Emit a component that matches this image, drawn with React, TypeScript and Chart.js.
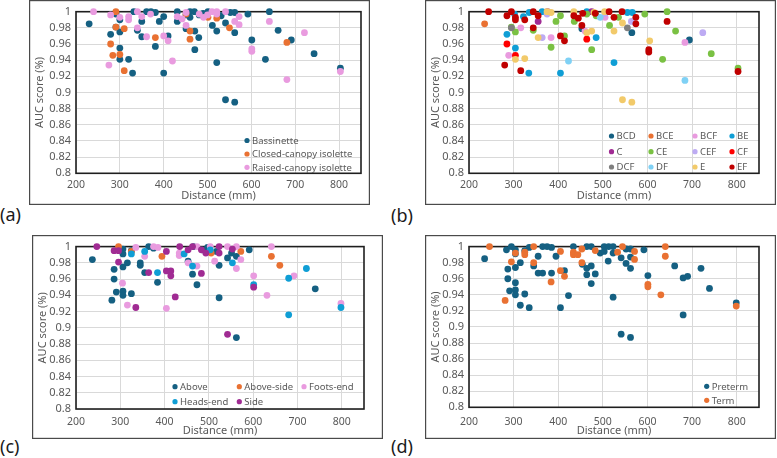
import React, { useEffect, useRef } from "react";
import { Chart, registerables } from "chart.js";

Chart.register(...registerables);

type Pt = [number, number];

// ---- axis ticks ----
const xTicks = [200, 300, 400, 500, 600, 700, 800];
const yTicks = [0.8, 0.82, 0.84, 0.86, 0.88, 0.9, 0.92, 0.94, 0.96, 0.98, 1];
const xTitle = "Distance (mm)";
const yTitle = "AUC score (%)";

// ---- (a) by cot type: [distance mm, AUC] ----
const bassinette: Pt[] = [
  [230, 0.985], [279, 0.972], [291, 0.981], [291, 0.997], [300, 0.99], [300, 0.975], [300, 0.955], [300, 0.941],
  [320, 0.941], [329, 0.924], [332, 1.0], [340, 0.977], [350, 0.988], [350, 0.969], [361, 1.0], [371, 1.0],
  [381, 0.999], [381, 0.957], [390, 0.988], [400, 0.994], [400, 0.924], [410, 0.97], [431, 1.0], [431, 0.988],
  [451, 0.979], [451, 0.996], [460, 1.0], [460, 0.993], [470, 1.0], [471, 0.976], [471, 0.953], [480, 0.968],
  [481, 0.996], [490, 0.998], [501, 1.0], [511, 0.983], [521, 0.976], [521, 0.937], [531, 0.995], [541, 0.986],
  [541, 0.891], [552, 0.999], [562, 0.999], [562, 0.974], [562, 0.888], [592, 0.997], [601, 0.965], [632, 0.941],
  [641, 1.0], [661, 0.977], [691, 0.965], [743, 0.948], [803, 0.93],
];
const closedCanopy: Pt[] = [
  [291, 1.0], [291, 0.981], [310, 0.979], [279, 0.96], [284, 0.946], [300, 0.947], [310, 0.927], [381, 0.968],
  [451, 0.997], [460, 0.976], [460, 0.966], [501, 0.993], [521, 0.992], [550, 0.98], [681, 0.962],
];
const raisedCanopy: Pt[] = [
  [240, 1.0], [275, 0.934], [279, 0.996], [300, 0.993], [320, 0.994], [320, 0.99], [340, 1.0], [340, 0.98],
  [350, 0.994], [361, 0.969], [370, 0.997], [400, 0.97], [410, 0.964], [420, 0.939], [431, 0.994], [442, 0.991],
  [451, 0.983], [451, 0.999], [481, 0.997], [491, 0.993], [500, 0.996], [510, 1.0], [521, 1.0], [521, 0.997],
  [541, 1.0], [562, 0.988], [572, 0.994], [572, 0.984], [601, 0.954], [601, 0.951], [641, 0.988], [681, 0.916],
  [721, 0.974], [803, 0.926],
];

// ---- (b) by camera combination ----
const bcd: Pt[] = [[453, 0.979], [565, 0.974], [694, 0.965]];
const bce: Pt[] = [[235, 0.985]];
const bcf: Pt[] = [[289, 0.946], [316, 0.98], [384, 0.968], [505, 0.993], [684, 0.962], [460, 0.976]];
const be: Pt[] = [
  [285, 0.972], [304, 0.955], [302, 0.997], [322, 0.994], [334, 0.924], [335, 0.999], [364, 1.0], [405, 0.924],
  [464, 1.0], [485, 0.968], [525, 0.937], [555, 0.999], [566, 0.999],
];
const c: Pt[] = [[355, 0.988], [376, 1.0], [475, 1.0]];
const ce: Pt[] = [
  [295, 0.981], [304, 0.975], [344, 0.977], [384, 0.956], [395, 0.988], [405, 0.995], [414, 0.97], [436, 0.988],
  [464, 0.997], [475, 0.953], [485, 0.995], [515, 0.983], [535, 0.993], [594, 0.997], [644, 1.0], [663, 0.976],
  [634, 0.941], [743, 0.948], [803, 0.93],
];
const cef: Pt[] = [[375, 0.997], [364, 0.968], [505, 0.998], [564, 0.988], [724, 0.974]];
const cf: Pt[] = [[285, 0.96], [304, 0.946], [464, 0.966]];
const dcf: Pt[] = [[295, 0.98], [555, 0.98]];
const df: Pt[] = [[423, 0.939], [494, 0.993], [684, 0.915]];
const e: Pt[] = [
  [304, 0.941], [325, 0.942], [355, 0.968], [375, 1.0], [384, 0.999], [435, 1.0], [464, 0.974], [475, 0.976],
  [480, 0.999], [504, 1.0], [525, 0.976], [544, 0.986], [605, 0.964], [544, 0.891], [565, 0.888],
];
const ef: Pt[] = [
  [244, 1.0], [295, 1.0], [285, 0.995], [304, 0.993], [304, 0.99], [325, 0.99], [344, 1.0], [355, 0.995],
  [344, 0.98], [280, 0.934], [316, 0.927], [405, 0.97], [414, 0.964], [435, 0.995], [445, 0.992], [455, 0.998],
  [453, 0.983], [483, 0.998], [514, 1.0], [525, 0.993], [543, 1.0], [574, 0.993], [574, 0.985], [644, 0.988],
  [603, 0.953], [603, 0.95], [803, 0.926],
];

// ---- (c) by camera position ----
const above: Pt[] = [
  [237, 0.984], [281, 0.934], [286, 0.972], [286, 0.96], [291, 0.944], [306, 0.997], [306, 0.991], [306, 0.975],
  [306, 0.945], [306, 0.94], [316, 0.98], [325, 0.942], [325, 0.995], [345, 0.98], [345, 0.977], [355, 0.968],
  [364, 1.0], [375, 0.998], [384, 0.956], [453, 0.982], [463, 0.966], [465, 1.0], [473, 0.953], [485, 0.996],
  [497, 0.999], [517, 0.994], [523, 0.977], [523, 0.937], [542, 0.986], [551, 0.992], [562, 0.988], [562, 0.888],
  [591, 0.996], [740, 0.948],
];
const aboveSide: Pt[] = [[296, 1.0], [325, 0.994], [394, 0.988], [505, 0.992], [572, 0.994], [641, 0.988], [660, 0.977]];
const footsEnd: Pt[] = [
  [305, 0.955], [316, 0.928], [335, 0.999], [355, 0.988], [375, 1.0], [385, 0.999], [404, 0.924], [433, 0.992],
  [433, 0.989], [453, 0.98], [473, 0.976], [473, 1.0], [503, 1.0], [513, 0.982], [542, 1.0], [562, 1.0],
  [562, 0.973], [572, 0.984], [601, 0.964], [631, 0.94], [641, 1.0], [692, 0.964], [798, 0.93],
];
const headsEnd: Pt[] = [
  [325, 0.991], [355, 0.994], [384, 0.968], [444, 0.991], [463, 0.976], [503, 0.996], [553, 0.98], [601, 0.953],
  [680, 0.961], [680, 0.916], [720, 0.973], [798, 0.925],
];
const side: Pt[] = [
  [247, 1.0], [286, 0.995], [296, 0.995], [296, 0.981], [335, 0.925], [364, 0.968], [404, 0.994], [404, 0.97],
  [414, 0.97], [414, 0.964], [424, 0.938], [434, 1.0], [453, 0.996], [463, 1.0], [483, 0.996], [483, 0.967],
  [493, 0.992], [523, 1.0], [523, 0.992], [542, 0.892], [553, 0.997], [601, 0.95],
];

// ---- (d) by gestation ----
const preterm: Pt[] = [
  [235, 0.985], [287, 0.972], [287, 0.96], [284, 0.996], [295, 1.0], [304, 0.996], [291, 0.945], [304, 0.991],
  [304, 0.974], [304, 0.955], [304, 0.946], [304, 0.94], [315, 0.98], [315, 0.927], [325, 0.941], [325, 0.995],
  [335, 0.924], [335, 0.999], [345, 0.976], [355, 0.988], [355, 0.967], [365, 0.967], [365, 1.0], [375, 1.0],
  [385, 0.999], [385, 0.967], [395, 0.988], [405, 0.924], [414, 0.97], [423, 0.939], [434, 1.0], [454, 0.978],
  [464, 0.973], [464, 0.965], [464, 1.0], [474, 1.0], [474, 0.976], [474, 0.954], [483, 0.966], [494, 0.992],
  [503, 0.994], [503, 1.0], [513, 1.0], [512, 0.982], [523, 1.0], [523, 0.992], [523, 0.937], [541, 0.986],
  [541, 0.891], [552, 0.979], [552, 0.997], [562, 0.997], [562, 0.987], [562, 0.973], [562, 0.887], [592, 0.996],
  [601, 0.964], [661, 0.976], [680, 0.961], [690, 0.963], [680, 0.915], [720, 0.973], [739, 0.948], [799, 0.93],
];
const term: Pt[] = [
  [246, 1.0], [281, 0.933], [295, 0.981], [304, 0.992], [325, 0.993], [325, 0.99], [345, 1.0], [345, 0.98],
  [384, 0.956], [405, 0.994], [405, 0.97], [414, 0.963], [434, 0.993], [434, 0.99], [444, 0.99], [453, 0.98],
  [453, 0.997], [483, 0.995], [533, 0.993], [544, 1.0], [571, 0.994], [571, 0.984], [601, 0.953], [601, 0.95],
  [630, 0.94], [640, 1.0], [640, 0.988], [799, 0.926],
];

// ---- palette ----
const TEAL = "#156082";
const ORANGE = "#E97132";
const PINK = "#E99BDF";
const BLUE = "#0F9ED5";
const PURPLE = "#A02B93";
const GREEN = "#7AC143";
const LAVENDER = "#BDABF3";
const RED = "#FF0000";
const GREY = "#7F7F7F";
const SKY = "#7FD1F5";
const GOLD = "#F2CA6A";
const MAROON = "#C00000";

const TEXT = "#595959";
const FONT = "'Noto Sans', 'Open Sans', sans-serif";

type Series = { label: string; color: string; points: Pt[] };
type Panel = {
  tag: string;
  left: number; top: number; width: number; height: number;
  yW: number; xH: number; padTop: number; padRight: number;
  xTickPad: number; xTitlePad: number;
  legendCols: number[]; legendRows: number[];
  tagLeft: number; tagTop: number;
  series: Series[];
};

const panels: Panel[] = [
  {
    tag: "(a)", left: 29, top: 0, width: 341, height: 205,
    yW: 47, xH: 31.7, padTop: 11.7, padRight: 9, xTickPad: 5, xTitlePad: 2.4,
    legendCols: [218], legendRows: [140.5, 154, 167.3],
    tagLeft: 0, tagTop: 203,
    series: [
      { label: "Bassinette", color: TEAL, points: bassinette },
      { label: "Closed-canopy isolette", color: ORANGE, points: closedCanopy },
      { label: "Raised-canopy isolette", color: PINK, points: raisedCanopy },
    ],
  },
  {
    tag: "(b)", left: 425, top: 0, width: 351, height: 205,
    yW: 44, xH: 31.7, padTop: 11.7, padRight: 17, xTickPad: 5, xTitlePad: 2.4,
    legendCols: [186.5, 226, 270, 307], legendRows: [136, 151.7, 167],
    tagLeft: 391, tagTop: 204,
    series: [
      { label: "BCD", color: TEAL, points: bcd },
      { label: "BCE", color: ORANGE, points: bce },
      { label: "BCF", color: PINK, points: bcf },
      { label: "BE", color: BLUE, points: be },
      { label: "C", color: PURPLE, points: c },
      { label: "CE", color: GREEN, points: ce },
      { label: "CEF", color: LAVENDER, points: cef },
      { label: "CF", color: RED, points: cf },
      { label: "DCF", color: GREY, points: dcf },
      { label: "DF", color: SKY, points: df },
      { label: "E", color: GOLD, points: e },
      { label: "EF", color: MAROON, points: ef },
    ],
  },
  {
    tag: "(c)", left: 32, top: 235, width: 351, height: 204,
    yW: 44, xH: 30, padTop: 10.7, padRight: 19, xTickPad: 7, xTitlePad: 2,
    legendCols: [143, 207.3, 272], legendRows: [151.7, 166.7],
    tagLeft: 0, tagTop: 435,
    series: [
      { label: "Above", color: TEAL, points: above },
      { label: "Above-side", color: ORANGE, points: aboveSide },
      { label: "Foots-end", color: PINK, points: footsEnd },
      { label: "Heads-end", color: BLUE, points: headsEnd },
      { label: "Side", color: PURPLE, points: side },
    ],
  },
  {
    tag: "(d)", left: 425, top: 235, width: 351, height: 204,
    yW: 44, xH: 31.7, padTop: 10.7, padRight: 17, xTickPad: 8, xTitlePad: 2,
    legendCols: [281.7], legendRows: [151.3, 165.3],
    tagLeft: 391, tagTop: 435,
    series: [
      { label: "Preterm", color: TEAL, points: preterm },
      { label: "Term", color: ORANGE, points: term },
    ],
  },
];

// Plot border, outer frame and an in-plot legend of dots + labels.
const panelDecor = {
  id: "panelDecor",
  beforeDatasetsDraw(chart: any) {
    const { ctx, chartArea: a } = chart;
    ctx.save();
    ctx.strokeStyle = "#1e1e1e";
    ctx.lineWidth = 1.6;
    ctx.strokeRect(a.left, a.top, a.right - a.left, a.bottom - a.top);
    ctx.restore();
  },
  afterDraw(chart: any, _args: any, opts: any) {
    const { ctx, width, height } = chart;
    ctx.save();
    ctx.strokeStyle = "#4a4a4a";
    ctx.lineWidth = 1.2;
    ctx.strokeRect(0.6, 0.6, width - 1.2, height - 1.2);

    const cols: number[] = opts.cols;
    const rows: number[] = opts.rows;
    const items: Series[] = opts.items;
    ctx.font = `9.5px ${FONT}`;
    ctx.textBaseline = "middle";
    ctx.textAlign = "left";
    items.forEach((s, i) => {
      const x = cols[i % cols.length];
      const y = rows[Math.floor(i / cols.length)];
      ctx.fillStyle = s.color;
      ctx.beginPath();
      ctx.arc(x, y, 2.6, 0, Math.PI * 2);
      ctx.fill();
      ctx.fillStyle = TEXT;
      ctx.fillText(s.label, x + 5, y + 0.5);
    });
    ctx.restore();
  },
};

function buildChart(canvas: HTMLCanvasElement, p: Panel) {
  const n = p.series.length;
  return new Chart(canvas, {
    type: "scatter",
    data: {
      datasets: p.series.map((s, i) => ({
        label: s.label,
        data: s.points.map(([x, y]) => ({ x, y })),
        backgroundColor: s.color,
        borderWidth: 0,
        pointRadius: 3.4,
        pointHoverRadius: 3.4,
        order: n - i,
        clip: false as any,
      })),
    },
    options: {
      responsive: false,
      animation: false,
      events: [],
      layout: { padding: { left: 0, top: p.padTop, right: p.padRight, bottom: 0 } },
      plugins: {
        legend: { display: false },
        tooltip: { enabled: false },
        panelDecor: { cols: p.legendCols, rows: p.legendRows, items: p.series },
      } as any,
      scales: {
        x: {
          type: "linear",
          min: 200,
          max: 850,
          afterFit: (s: any) => { s.height = p.xH; },
          afterBuildTicks: (s: any) => { s.ticks = xTicks.map((v) => ({ value: v })); },
          ticks: {
            autoSkip: false,
            padding: p.xTickPad,
            color: TEXT,
            font: { family: FONT, size: 10.5 },
            maxRotation: 0,
            callback: (v: any) => String(v),
          },
          grid: { color: "#d9d9d9", lineWidth: 1, drawTicks: false },
          border: { display: false },
          title: {
            display: true,
            text: xTitle,
            color: TEXT,
            font: { family: FONT, size: 11 },
            padding: { top: 0, bottom: p.xTitlePad },
          },
        },
        y: {
          type: "linear",
          min: 0.8,
          max: 1,
          afterFit: (s: any) => { s.width = p.yW; },
          afterBuildTicks: (s: any) => { s.ticks = yTicks.map((v) => ({ value: v })); },
          ticks: {
            autoSkip: false,
            padding: 5,
            color: TEXT,
            font: { family: FONT, size: 11 },
            callback: (v: any) => String(+Number(v).toFixed(2)),
          },
          grid: { color: "#d9d9d9", lineWidth: 1, drawTicks: false },
          border: { display: false },
          title: {
            display: true,
            text: yTitle,
            color: TEXT,
            font: { family: FONT, size: 11 },
            padding: { top: 4, bottom: 0 },
          },
        },
      },
    },
    plugins: [panelDecor],
  });
}

export default function App() {
  const refs = useRef<(HTMLCanvasElement | null)[]>([]);

  useEffect(() => {
    const charts = panels.map((p, i) => buildChart(refs.current[i] as HTMLCanvasElement, p));
    return () => charts.forEach((ch) => ch.destroy());
  }, []);

  return (
    <div style={{ position: "absolute", left: 0, top: 0, width: 777, height: 458, background: "#fff", overflow: "hidden" }}>
      {panels.map((p, i) => (
        <React.Fragment key={p.tag}>
          <canvas
            ref={(el) => { refs.current[i] = el; }}
            width={p.width}
            height={p.height}
            style={{ position: "absolute", left: p.left, top: p.top, width: p.width, height: p.height }}
          />
          <div
            style={{
              position: "absolute",
              left: p.tagLeft,
              top: p.tagTop,
              font: `18px ${FONT}`,
              lineHeight: "22px",
              color: "#1a1a1a",
            }}
          >
            {p.tag}
          </div>
        </React.Fragment>
      ))}
    </div>
  );
}
